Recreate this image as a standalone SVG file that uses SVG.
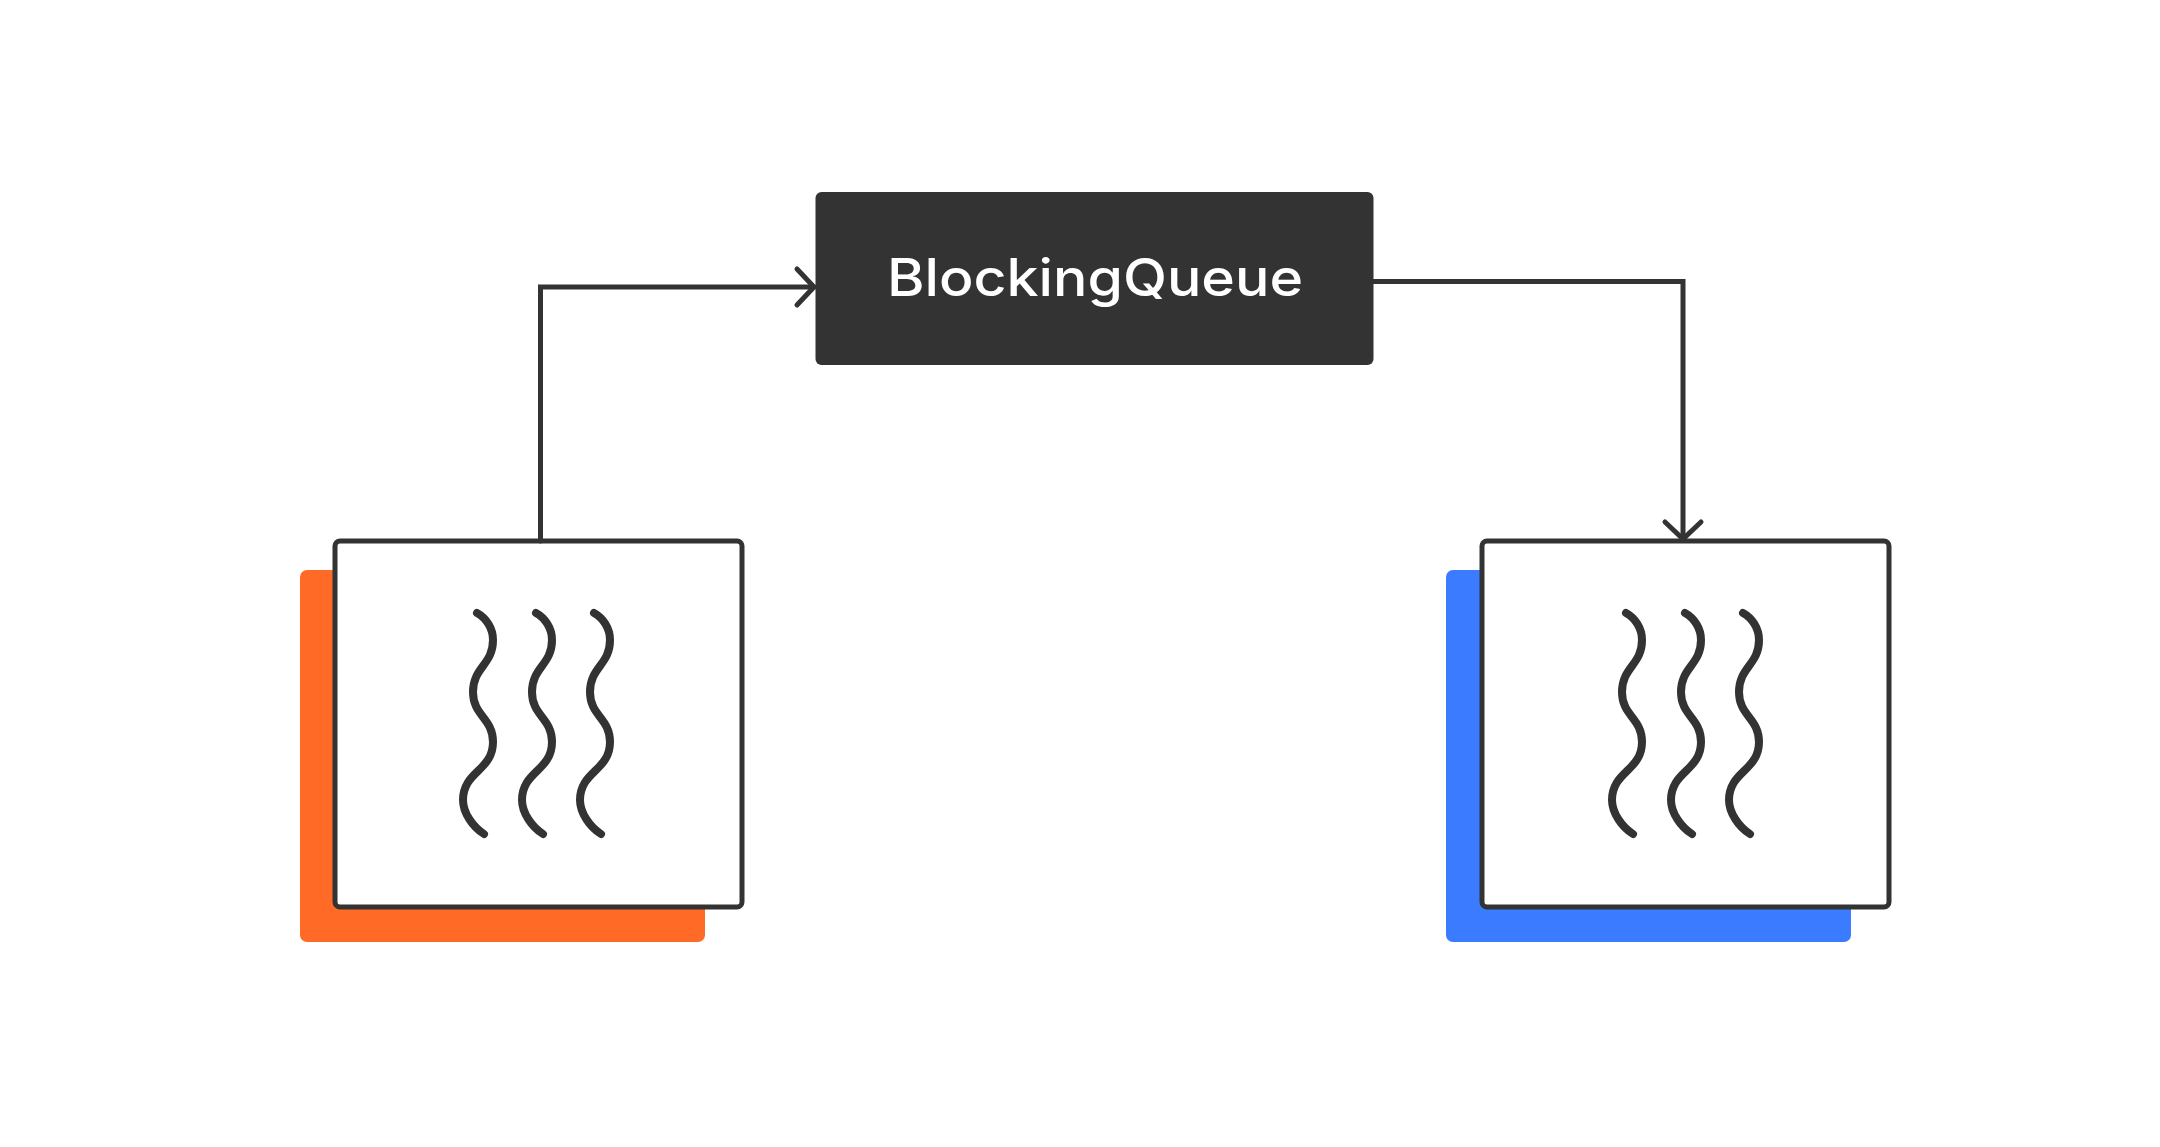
<svg xmlns="http://www.w3.org/2000/svg" width="2160" height="1147" viewBox="0 0 2160 1147">
<style>
.frame{fill:#fff;stroke:#333;stroke-width:5}
.wave,.conn{fill:none;stroke:#333;stroke-linecap:round;stroke-linejoin:miter}
.wave{stroke-width:8}
.conn{stroke-width:5}
.label{font-family:Inter,"Liberation Sans",sans-serif;font-size:52px;font-weight:500;fill:#fff;text-anchor:middle}
</style>
<defs>
<marker id="arrow" markerUnits="userSpaceOnUse" markerWidth="50" markerHeight="50" refX="25" refY="25" orient="auto" overflow="visible">
<path d="M8,7 L25,25 L8,43" fill="none" stroke="#333" stroke-width="5" stroke-linecap="round"/>
</marker>
<path id="w" d="M477,613 C486,618 493,628 493,640 C493,665 473,667 473,692 C473,716 493,718 493,742 C493,771 463,771 463,800 C463,813 473,827 484,834"/>
<g id="waves"><use href="#w"/><use href="#w" x="59"/><use href="#w" x="117"/></g>
</defs>
<rect width="2160" height="1147" fill="#fff"/>
<g id="producer">
<rect x="300" y="570" width="405" height="372" rx="7" fill="#ff6b26"/>
<rect class="frame" x="335" y="541" width="407" height="366" rx="5"/>
<use href="#waves" class="wave"/>
</g>
<g id="consumer">
<rect x="1446" y="570" width="405" height="372" rx="7" fill="#3a7bff"/>
<rect class="frame" x="1482" y="541" width="407" height="366" rx="5"/>
<use href="#waves" class="wave" x="1149"/>
</g>
<g id="queue">
<rect x="815.5" y="192" width="558" height="173" rx="6" fill="#333"/>
<text class="label" x="1095" y="296" textLength="416" lengthAdjust="spacingAndGlyphs">BlockingQueue</text>
</g>
<g id="connectors">
<path class="conn" d="M540.500,541 V287 H814" marker-end="url(#arrow)"/>
<path class="conn" d="M1373,281.500 H1683 V539" marker-end="url(#arrow)"/>
</g>
</svg>
